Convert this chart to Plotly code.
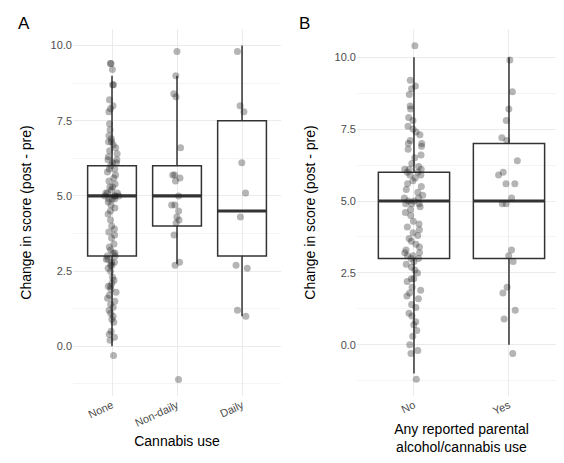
import plotly.graph_objects as go

# panel A: cannabis use
cannabis_groups = ["None", "Non-daily", "Daily"]
cannabis_q1 = [3.0, 4.0, 3.0]
cannabis_median = [5.0, 5.0, 4.5]
cannabis_q3 = [6.0, 6.0, 7.5]
cannabis_lo = [0.0, 2.75, 1.0]
cannabis_hi = [9.0, 9.0, 10.0]

none_pts = [9.4, 9.4, 9.2, 8.7, 8.7, 8.2, 8.0, 7.9, 7.8, 7.4, 7.2, 7.0, 6.9, 6.8, 6.8, 6.7,
            6.6, 6.5, 6.4, 6.3, 6.2, 6.2, 6.1, 6.1, 6.0, 5.9, 5.9, 5.8, 5.7, 5.6, 5.5, 5.4,
            5.3, 5.3, 5.2, 5.1, 5.1, 5.1, 5.0, 5.0, 5.0, 5.0, 4.9, 4.9, 4.9, 4.8, 4.7, 4.6,
            4.5, 4.4, 4.2, 4.0, 3.9, 3.8, 3.7, 3.6, 3.4, 3.3, 3.2, 3.1, 3.1, 3.0, 3.0, 2.9,
            2.9, 2.8, 2.8, 2.7, 2.7, 2.6, 2.5, 2.3, 2.2, 2.1, 2.0, 2.0, 1.9, 1.8, 1.7, 1.6,
            1.5, 1.4, 1.3, 1.2, 1.1, 1.0, 0.9, 0.8, 0.5, 0.4, 0.3, 0.2, -0.3]
nondaily_pts = [9.8, 9.0, 8.3, 8.4, 6.6, 5.7, 5.6, 5.7, 5.5, 5.0, 4.7, 4.5, 4.7, 4.3, 4.2,
                4.1, 3.7, 2.8, 2.7, -1.1]
daily_pts = [9.8, 8.0, 7.8, 6.1, 5.1, 4.3, 2.7, 2.6, 1.2, 1.0]

# panel B: parental use
parent_groups = ["No", "Yes"]
parent_q1 = [3.0, 3.0]
parent_median = [5.0, 5.0]
parent_q3 = [6.0, 7.0]
parent_lo = [-1.0, 0.0]
parent_hi = [10.0, 10.0]

no_pts = [10.4, 9.2, 9.0, 8.9, 8.7, 8.3, 8.2, 7.9, 7.8, 7.6, 7.5, 7.4, 7.3, 7.1, 7.0, 7.0,
          6.9, 6.8, 6.6, 6.5, 6.3, 6.2, 6.1, 6.1, 6.1, 6.0, 6.0, 5.9, 5.9, 5.8, 5.7, 5.6,
          5.5, 5.4, 5.3, 5.2, 5.1, 5.1, 5.0, 5.0, 4.9, 4.9, 4.9, 4.8, 4.7, 4.6, 4.5, 4.3,
          4.2, 4.1, 4.0, 3.9, 3.8, 3.7, 3.6, 3.5, 3.4, 3.3, 3.2, 3.2, 3.1, 3.1, 3.0, 3.0,
          2.9, 2.8, 2.7, 2.6, 2.5, 2.3, 2.3, 2.2, 2.0, 1.9, 1.8, 1.7, 1.6, 1.4, 1.3, 1.1,
          1.0, 0.8, 0.7, 0.5, 0.3, 0.0, -0.2, -0.3, -1.2]
yes_pts = [9.9, 8.8, 8.2, 7.8, 7.2, 7.1, 6.4, 6.0, 5.9, 5.6, 5.6, 5.1, 4.9, 4.9, 3.3, 3.1,
           2.9, 2.0, 1.8, 1.2, 0.9, -0.3]

FONT = "Liberation Sans"
PT = "rgba(30,30,30,0.33)"

fig = go.Figure()

def add_panel(groups, q1, med, q3, lo, hi, pts, xa, ya, jit):
    fig.add_trace(go.Box(
        x=groups, q1=q1, median=med, q3=q3, lowerfence=lo, upperfence=hi,
        fillcolor="rgba(255,255,255,0)", line=dict(color="#333333", width=1.5),
        width=0.75, whiskerwidth=0, boxpoints=False, xaxis=xa, yaxis=ya, showlegend=False,
        hoverinfo="skip"))
    # thick median line
    fig.add_trace(go.Box(
        x=groups, q1=med, median=med, q3=med, lowerfence=med, upperfence=med,
        fillcolor="rgba(255,255,255,0)", line=dict(color="#333333", width=3.2),
        width=0.75, whiskerwidth=0, boxpoints=False, xaxis=xa, yaxis=ya, showlegend=False,
        hoverinfo="skip"))
    for g, p in zip(groups, pts):
        fig.add_trace(go.Box(
            x=[g] * len(p), y=p, boxpoints="all", jitter=jit, pointpos=0,
            width=0.75, fillcolor="rgba(0,0,0,0)", line=dict(width=0, color="rgba(0,0,0,0)"),
            marker=dict(color=PT, size=7), xaxis=xa, yaxis=ya, showlegend=False))

add_panel(cannabis_groups, cannabis_q1, cannabis_median, cannabis_q3, cannabis_lo,
          cannabis_hi, [none_pts, nondaily_pts, daily_pts], "x", "y", 0.3)
add_panel(parent_groups, parent_q1, parent_median, parent_q3, parent_lo, parent_hi,
          [no_pts, yes_pts], "x2", "y2", 0.3)

grid = "#ebebeb"
yax = dict(tickvals=[0, 2.5, 5, 7.5, 10], tickformat=".1f", gridcolor=grid, zeroline=False,
           showline=False, tickfont=dict(size=11, color="#4d4d4d"), automargin=False,
           title=dict(text="Change in score (post - pre)", font=dict(size=14, color="black")),
           minor=dict(tickvals=[-1.25, 1.25, 3.75, 6.25, 8.75], gridcolor="#f4f4f4", showgrid=True))
xax = dict(gridcolor=grid, zeroline=False, showline=False, tickangle=-25, automargin=False,
           tickfont=dict(size=11, color="#4d4d4d"))

fig.update_layout(
    width=564, height=463, template="plotly_white",
    plot_bgcolor="white", paper_bgcolor="white",
    font=dict(family=FONT, color="black"),
    margin=dict(l=65, r=6, t=21, b=75),
    boxmode="overlay",
    xaxis=dict(xax, domain=[0, 0.422], range=[-0.6, 2.6],
               title=dict(text="Cannabis use", font=dict(size=14, color="black"), standoff=8)),
    xaxis2=dict(xax, domain=[0.576, 1], anchor="y2", range=[-0.6, 1.6],
                title=dict(text="Any reported parental<br>alcohol/cannabis use",
                           font=dict(size=14, color="black"), standoff=8)),
    yaxis=dict(yax, range=[-1.65, 10.55]),
    yaxis2=dict(yax, range=[-1.78, 10.98], anchor="x2"),
    annotations=[
        dict(text="A", x=-0.115, y=1.045, xref="paper", yref="paper", xanchor="left",
             showarrow=False, font=dict(size=17)),
        dict(text="B", x=0.455, y=1.045, xref="paper", yref="paper", xanchor="left",
             showarrow=False, font=dict(size=17)),
    ],
)

fig.write_html("out.html")
